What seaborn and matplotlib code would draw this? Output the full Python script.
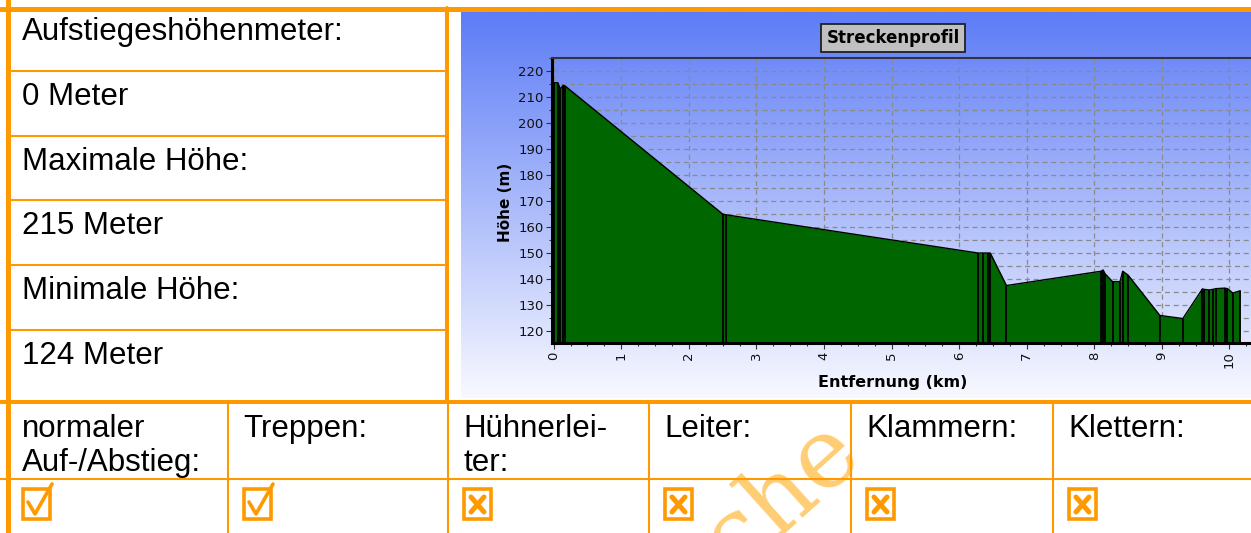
import numpy as np
import pandas as pd
import matplotlib.pyplot as plt
import seaborn as sns
from matplotlib.lines import Line2D
from matplotlib.patches import Rectangle
from matplotlib.ticker import MultipleLocator

# Höhenprofil (km, m)
km = [0.00, 0.06, 0.10, 0.14, 0.17, 2.50, 2.55, 6.28, 6.35, 6.42, 6.46, 6.70,
      8.10, 8.13, 8.16, 8.27, 8.38, 8.42, 8.50, 8.97, 9.31, 9.60, 9.63, 9.70,
      9.75, 9.80, 9.93, 9.97, 10.05, 10.16]
hoehe = [215.5, 215.5, 213.0, 214.5, 214.2, 165.0, 164.7, 150.0, 150.0, 150.0, 150.0, 137.5,
         143.0, 143.5, 142.0, 139.0, 139.0, 143.0, 141.5, 126.0, 124.8, 136.2, 136.0, 135.8,
         136.0, 136.3, 136.5, 136.3, 134.6, 135.5]

info_labels = ["Aufstiegeshöhenmeter:", "Maximale Höhe:", "Minimale Höhe:"]
info_values = [0, 215, 124]

kategorien = ["normaler\nAuf-/Abstieg:", "Treppen:", "Hühnerlei-\nter:", "Leiter:", "Klammern:", "Klettern:"]
erlaubt = [True, True, False, False, False, False]

df = pd.DataFrame({"km": km, "hoehe": hoehe})

sns.set_style("white")
plt.rcParams["font.family"] = ["Liberation Sans", "DejaVu Sans"]
plt.rcParams["text.color"] = "black"

ORANGE = "#ff9900"
W, H = 1251, 533
fig = plt.figure(figsize=(W / 100, H / 100), dpi=100)


def fx(x):
    return x / W


def fy(y):
    return 1 - y / H


def hline(y, x0, x1, lw):
    fig.add_artist(Line2D([fx(x0), fx(x1)], [fy(y), fy(y)], color=ORANGE, lw=lw, zorder=5))


def vline(x, y0, y1, lw):
    fig.add_artist(Line2D([fx(x), fx(x)], [fy(y0), fy(y1)], color=ORANGE, lw=lw, zorder=5))


# Wasserzeichen (unter dem Diagramm)
fig.text(fx(698), fy(607), "sche", family="DejaVu Serif", fontsize=70, color="#ffc050",
         alpha=0.8, rotation=42, rotation_mode="anchor", ha="left", va="baseline", zorder=-1)

# Hintergrund des Diagramms mit Farbverlauf
bg = fig.add_axes([fx(461), fy(398), (1260 - 461) / W, (398 - 12) / H])
top = np.array([93, 124, 246]) / 255
bot = np.array([248, 249, 255]) / 255
t = np.linspace(0, 1, 256)[:, None, None]
grad = top * (1 - t) + bot * t
bg.imshow(grad, aspect="auto", extent=[0, 1, 0, 1])
bg.axis("off")

# Diagramm
y0, y1 = 115.4, 225.0
x0, x1 = -0.025, 10.6
ax = fig.add_axes([fx(552), fy(343), (1270 - 552) / W, (343 - 58) / H])
ax.set_facecolor("none")
ax.fill_between(df["km"], df["hoehe"], y0, color="#006600", lw=0, zorder=2)
sns.lineplot(data=df, x="km", y="hoehe", ax=ax, color="black", lw=1.0, estimator=None, zorder=3)
ax.vlines(df["km"], y0, df["hoehe"], colors="black", lw=1.3, zorder=3)
ax.set_xlim(x0, x1)
ax.set_ylim(y0, y1)

ax.xaxis.set_major_locator(MultipleLocator(1))
ax.xaxis.set_minor_locator(MultipleLocator(0.25))
ax.yaxis.set_major_locator(MultipleLocator(10))
ax.yaxis.set_minor_locator(MultipleLocator(5))
ax.set_axisbelow(True)
ax.grid(which="both", axis="y", color="#8a8a8a", lw=0.9, ls=(0, (4, 3)))
ax.grid(which="major", axis="x", color="#8a8a8a", lw=0.9, ls=(0, (4, 3)))
ax.tick_params(which="major", direction="out", length=4, width=0.8, color="#333333",
               labelsize=9.5, pad=2, left=True, bottom=True, labelcolor="#111111")
ax.tick_params(which="minor", direction="out", length=2.5, width=0.8, color="#333333",
               left=True, bottom=True)
ax.tick_params(axis="x", labelrotation=90)
for lab in ax.get_xticklabels() + ax.get_yticklabels():
    lab.set_family("DejaVu Sans")

ax.spines["left"].set_linewidth(2.2)
ax.spines["bottom"].set_linewidth(2.2)
ax.spines["left"].set_color("black")
ax.spines["bottom"].set_color("black")
ax.spines["top"].set_linewidth(1.5)
ax.spines["top"].set_color("#333344")
ax.spines["right"].set_visible(False)

ax.set_xlabel("")
ax.set_ylabel("")
fig.text(fx(893), fy(382), "Entfernung (km)", ha="center", va="center",
         fontsize=11.5, fontweight="bold", family="DejaVu Sans")
fig.text(fx(505), fy(202), "Höhe (m)", ha="center", va="center", rotation=90,
         fontsize=11, fontweight="bold", family="DejaVu Sans")
fig.text(fx(893), fy(38), "Streckenprofil", ha="center", va="center",
         fontsize=12, fontweight="bold", family="DejaVu Sans",
         bbox=dict(boxstyle="square,pad=0.3", fc="#c0c0c0", ec="#202020", lw=1.3))

# Tabelle links
texte = []
for lab, val in zip(info_labels, info_values):
    texte += [lab, f"{val} Meter"]
for i, s in enumerate(texte):
    fig.text(fx(22), fy(40 + i * 64.8), s, fontsize=22.5, va="baseline", ha="left", zorder=6)

# Linien
hline(8.5, 0, W, 3.6)
vline(7.5, 0, H, 3.6)
vline(447, 8, 402, 2.9)
for y in [71, 136, 200, 265, 330]:
    hline(y, 8, 446, 1.5)
hline(402, 0, W, 2.9)
hline(479, 0, W, 1.5)
spalten = [7, 228, 448, 649, 851, 1053]
for x in spalten[1:]:
    vline(x, 402, H, 1.5)

# Tabelle unten
for x, kat, ok in zip(spalten, kategorien, erlaubt):
    for j, zeile in enumerate(kat.split("\n")):
        fig.text(fx(x + 15), fy(437 + j * 34), zeile, fontsize=22.5, va="baseline",
                 ha="left", zorder=6)
    bx, by = x + 16, 489
    fig.add_artist(Rectangle((fx(bx), fy(by + 30)), 27 / W, 30 / H, fill=False,
                             ec=ORANGE, lw=2.6, zorder=6))
    if ok:
        fig.add_artist(Line2D([fx(bx + 5), fx(bx + 12), fx(bx + 29)],
                              [fy(by + 13), fy(by + 25), fy(by - 5)],
                              color=ORANGE, lw=2.6, zorder=6))
    else:
        fig.add_artist(Line2D([fx(bx + 7), fx(bx + 20)], [fy(by + 8), fy(by + 23)],
                              color=ORANGE, lw=3.6, solid_capstyle="round", zorder=6))
        fig.add_artist(Line2D([fx(bx + 20), fx(bx + 7)], [fy(by + 8), fy(by + 23)],
                              color=ORANGE, lw=3.6, solid_capstyle="round", zorder=6))

fig.savefig("out.png", dpi=100)
